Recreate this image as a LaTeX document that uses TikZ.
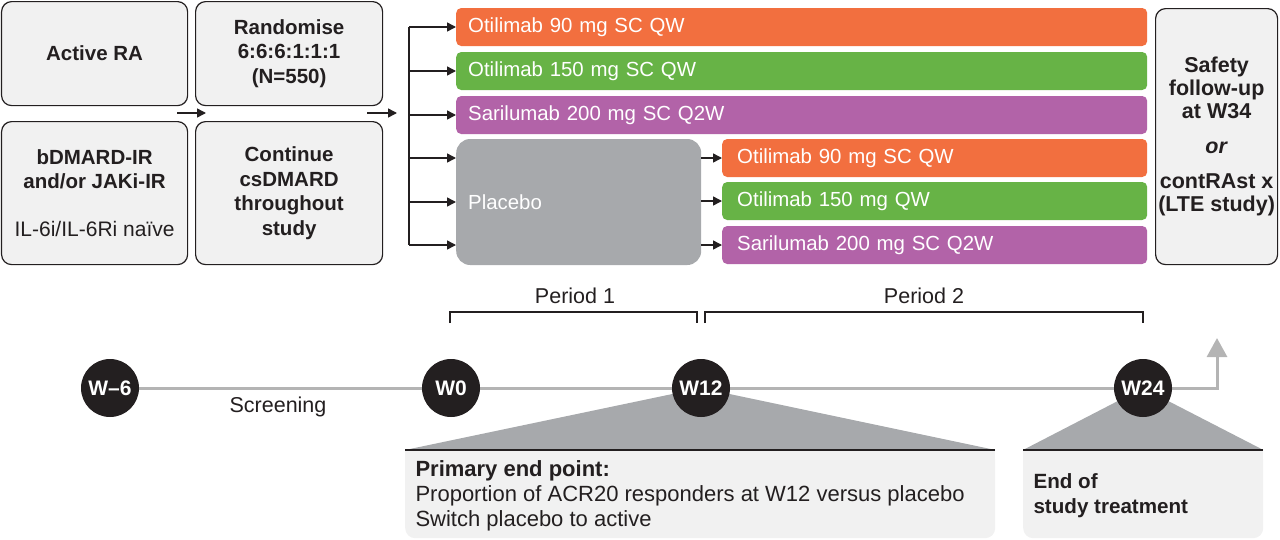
\documentclass[tikz,border=0pt]{standalone}
\usepackage{fontspec}
\setmainfont{Liberation Sans}
\usetikzlibrary{arrows.meta}

\definecolor{otiorange}{HTML}{F26F3F}
\definecolor{otigreen}{HTML}{67B346}
\definecolor{sarpurple}{HTML}{B263A8}
\definecolor{placebogray}{HTML}{A7A9AC}
\definecolor{boxfill}{HTML}{F1F1F1}
\definecolor{linegray}{HTML}{B4B4B4}
\definecolor{dotblack}{HTML}{231F20}

\begin{document}
\begin{tikzpicture}[x=1pt, y=-1pt,
        infobox/.style={draw=dotblack, line width=1.2pt, fill=boxfill, rounded corners=10pt, anchor=north west,
            align=center, text=dotblack, inner sep=0pt, font=\fontsize{20.5}{24.5}\selectfont\bfseries},
        bar/.style={rounded corners=5pt, minimum height=38pt, text=white, anchor=west, align=left,
            inner xsep=12pt, font=\fontsize{20.4}{24}\selectfont},
        week/.style={circle, fill=dotblack, text=white, minimum size=58pt, inner sep=0pt,
            font=\fontsize{21}{22}\selectfont\bfseries},
        flow/.style={line width=1.5pt, dotblack, -{Triangle[length=9pt,width=9pt]}},
        endbox/.style={fill=boxfill, rounded corners=10pt, anchor=north west, inner sep=0pt},
        plain/.style={text=dotblack, font=\fontsize{21.5}{25}\selectfont}
    ]
        \useasboundingbox (0,0) rectangle (1280,539);

        % left column
        \node[infobox, minimum width=186pt, minimum height=104pt] (activeRA) at (1,1) {Active RA};
        \node[infobox, minimum width=186pt, minimum height=143pt] (bdmard) at (1,121)
            {bDMARD-IR\\and/or JAKi-IR\\[23pt]{\mdseries\fontsize{21}{24.5}\selectfont IL-6i/IL-6Ri na\"ive}};
        \node[infobox, minimum width=187pt, minimum height=104pt] (randomise) at (195,1)
            {Randomise\\6:6:6:1:1:1\\(N=550)};
        \node[infobox, minimum width=187pt, minimum height=143pt] (csdmard) at (195,121)
            {Continue\\csDMARD\\throughout\\study};
        \node[infobox, minimum width=122pt, minimum height=256pt, font=\fontsize{21.5}{23}\selectfont\bfseries] (safety) at (1155,8)
            {Safety\\follow-up\\at W34\\[12pt]\textit{or}\\[12pt]contRAst x\\(LTE study)};

        % treatment arms
        \node[bar, fill=otiorange, text width=667pt] (arm1) at (456,27) {Otilimab 90 mg SC QW};
        \node[bar, fill=otigreen, text width=667pt] (arm2) at (456,71) {Otilimab 150 mg SC QW};
        \node[bar, fill=sarpurple, text width=667pt] (arm3) at (456,115) {Sarilumab 200 mg SC Q2W};
        \node[bar, fill=placebogray, rounded corners=14pt, minimum height=126pt, text width=221pt] (placebo) at (456,202) {Placebo};
        \node[bar, fill=otiorange, inner xsep=15pt, text width=395pt] (sw1) at (722,158) {Otilimab 90 mg SC QW};
        \node[bar, fill=otigreen, inner xsep=15pt, text width=395pt] (sw2) at (722,201) {Otilimab 150 mg QW};
        \node[bar, fill=sarpurple, inner xsep=15pt, text width=395pt] (sw3) at (722,245) {Sarilumab 200 mg SC Q2W};

        % arrows
        \coordinate (inA) at (177,113);
        \coordinate (outA) at (206,113);
        \coordinate (inB) at (367,113);
        \coordinate (outB) at (397,113);
        \coordinate (forkTop) at (409,27);
        \coordinate (forkBot) at (409,245);
        \draw[flow] (inA) -- (outA);
        \draw[flow] (inB) -- (outB);
        \draw[line width=1.5pt, dotblack] (forkTop) -- (forkBot);
        \draw[flow] (forkTop) -- (arm1.west);
        \draw[flow] (forkTop |- arm2.west) -- (arm2.west);
        \draw[flow] (forkTop |- arm3.west) -- (arm3.west);
        \draw[flow] (forkTop |- sw1.west) -- (placebo.west |- sw1.west);
        \draw[flow] (forkTop |- placebo.west) -- (placebo.west);
        \draw[flow] (forkBot) -- (placebo.west |- sw3.west);
        \draw[flow] (placebo.east |- sw1.west) -- (sw1.west);
        \draw[flow] (placebo.east |- sw2.west) -- (sw2.west);
        \draw[flow] (placebo.east |- sw3.west) -- (sw3.west);

        % periods
        \draw[line width=1.3pt, dotblack] (450,323) -- (450,312) -- (697,312) -- (697,323);
        \draw[line width=1.3pt, dotblack] (705,323) -- (705,312) -- (1143,312) -- (1143,323);
        \node[plain] (period1) at (575,296) {Period 1};
        \node[plain] (period2) at (924,296) {Period 2};

        % timeline
        \coordinate (pm6) at (110,388);
        \coordinate (p0) at (451,388);
        \coordinate (p12) at (701,388);
        \coordinate (p24) at (1143,388);
        \coordinate (tlTurn) at (1217,388);
        \coordinate (tlTip) at (1217,338);
        \draw[line width=3pt, linegray, -{Triangle[length=19pt,width=20pt]}] (pm6) -- (tlTurn) -- (tlTip);
        \node[plain] (screening) at (278,407) {Screening};

        % end point boxes
        \node[endbox, minimum width=590pt, minimum height=88pt] (primBox) at (405,450) {};
        \fill[boxfill] (primBox.north west) rectangle ([yshift=-20pt]primBox.north east);
        \fill[placebogray] (primBox.north west) -- (p12) -- (primBox.north east) -- cycle;
        \draw[line width=2pt, dotblack] (primBox.north west) -- (primBox.north east);
        \node[plain, anchor=west, align=left, font=\fontsize{22}{25}\selectfont] (primText) at (412,496)
            {\textbf{Primary end point:}\\Proportion of ACR20 responders at W12 versus placebo\\Switch placebo to active};

        \node[endbox, minimum width=240pt, minimum height=88pt] (endBox) at (1023,450) {};
        \fill[boxfill] (endBox.north west) rectangle ([yshift=-20pt]endBox.north east);
        \fill[placebogray] (endBox.north west) -- (p24) -- (endBox.north east) -- cycle;
        \draw[line width=2pt, dotblack] (endBox.north west) -- (endBox.north east);
        \node[plain, anchor=west, align=left, font=\fontsize{20.6}{25}\selectfont\bfseries] (endText) at (1030,496)
            {End of\\study treatment};

        % week markers
        \node[week] (wm6) at (pm6) {W--6};
        \node[week] (w0) at (p0) {W0};
        \node[week] (w12) at (p12) {W12};
        \node[week] (w24) at (p24) {W24};

    \end{tikzpicture}
\end{document}
